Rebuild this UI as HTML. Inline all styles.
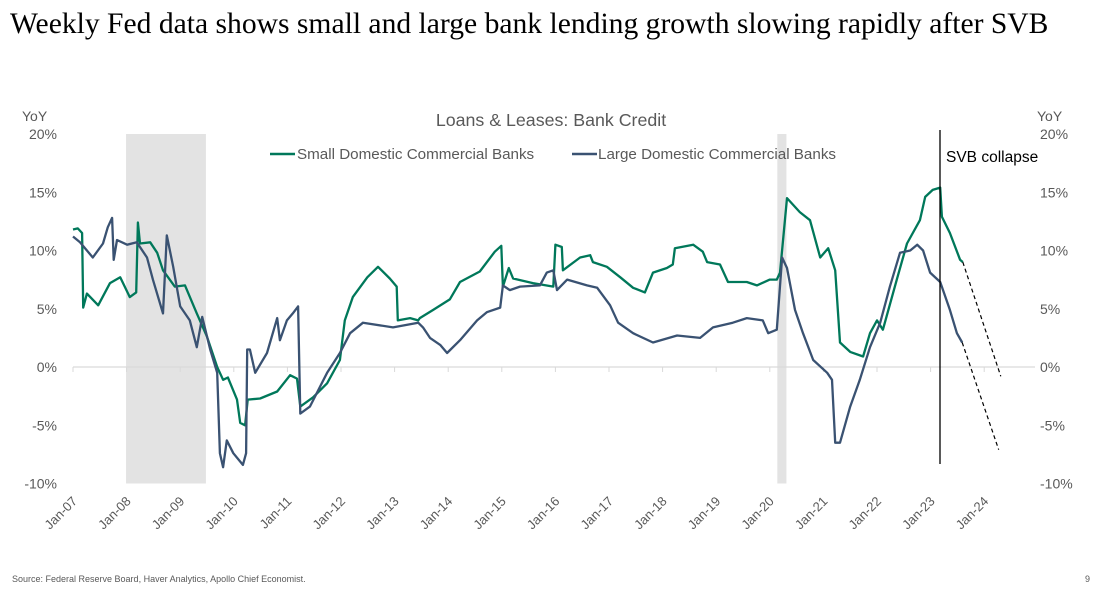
<!DOCTYPE html>
<html><head><meta charset="utf-8"><style>
body{margin:0;background:#fff;}
svg text{font-family:"Liberation Sans",sans-serif;}
</style></head><body>
<svg id="chart" width="1093" height="593" viewBox="0 0 1093 593" xmlns="http://www.w3.org/2000/svg">
<text x="10" y="33" font-size="29.6" fill="#000" style="font-family:'Liberation Serif',serif">Weekly Fed data shows small and large bank lending growth slowing rapidly after SVB</text>
<text x="551" y="126" font-size="17.8" fill="#595959" text-anchor="middle">Loans &amp; Leases: Bank Credit</text>
<text x="22" y="121" font-size="14" fill="#595959">YoY</text>
<text x="1037" y="121" font-size="14" fill="#595959">YoY</text>
<g id="bands"></g>
<g id="grid"></g>
<g id="series"></g>
<g>
<line x1="270" y1="154" x2="295" y2="154" stroke="#00785a" stroke-width="2.5"/>
<text x="297" y="159" font-size="15.2" fill="#595959">Small Domestic Commercial Banks</text>
<line x1="572" y1="154" x2="597" y2="154" stroke="#3a5272" stroke-width="2.5"/>
<text x="598" y="159" font-size="15.2" fill="#595959">Large Domestic Commercial Banks</text>
</g>
<line x1="940" y1="130" x2="940" y2="464" stroke="#000" stroke-width="1.3"/>
<text x="946" y="162" font-size="15.5" fill="#000">SVB collapse</text>
<text x="12" y="582" font-size="9" fill="#595959">Source: Federal Reserve Board, Haver Analytics, Apollo Chief Economist.</text>
<text x="1085" y="582" font-size="9" fill="#595959">9</text>
</svg>
<script>
const yTicks=[20,15,10,5,0,-5,-10];
const xTickLabels=["Jan-07","Jan-08","Jan-09","Jan-10","Jan-11","Jan-12","Jan-13","Jan-14","Jan-15","Jan-16","Jan-17","Jan-18","Jan-19","Jan-20","Jan-21","Jan-22","Jan-23","Jan-24"];
const xTickYears=[2007,2008,2009,2010,2011,2012,2013,2014,2015,2016,2017,2018,2019,2020,2021,2022,2023,2024];
const recessionStarts=[2007.99,2020.14];
const recessionEnds=[2009.48,2020.31];
const smallDates=[2007.00,2007.09,2007.17,2007.19,2007.26,2007.47,2007.69,2007.88,2008.06,2008.18,2008.21,2008.25,2008.44,2008.57,2008.68,2008.90,2009.09,2009.31,2009.50,2009.69,2009.80,2009.89,2010.06,2010.12,2010.21,2010.26,2010.49,2010.81,2011.05,2011.18,2011.24,2011.48,2011.74,2011.98,2012.07,2012.22,2012.49,2012.69,2012.91,2013.04,2013.06,2013.29,2013.44,2013.47,2013.72,2014.03,2014.22,2014.59,2014.87,2014.99,2015.02,2015.13,2015.21,2015.58,2015.96,2016.00,2016.12,2016.14,2016.46,2016.65,2016.70,2016.96,2017.21,2017.45,2017.67,2017.82,2018.08,2018.19,2018.23,2018.57,2018.75,2018.83,2019.07,2019.22,2019.57,2019.76,2020.00,2020.13,2020.19,2020.32,2020.56,2020.75,2020.94,2021.09,2021.22,2021.31,2021.50,2021.74,2021.87,2022.00,2022.11,2022.37,2022.56,2022.80,2022.90,2023.04,2023.18,2023.21,2023.36,2023.55,2023.60];
const smallVals=[11.8,11.9,11.5,5.1,6.3,5.3,7.2,7.7,6.0,6.4,12.4,10.6,10.7,9.8,8.3,6.9,7.0,4.6,2.6,0,-1.1,-0.9,-2.8,-4.8,-5.0,-2.8,-2.7,-2.1,-0.7,-1.0,-3.4,-2.6,-1.4,0.6,4.0,6.0,7.7,8.6,7.6,6.9,4.0,4.2,4.0,4.2,4.9,5.8,7.3,8.2,9.9,10.4,6.9,8.5,7.6,7.2,6.9,10.5,10.3,8.3,9.4,9.6,9.0,8.6,7.7,6.8,6.4,8.1,8.5,8.8,10.2,10.5,9.9,9.0,8.8,7.3,7.3,7.0,7.5,7.5,8.1,14.5,13.3,12.6,9.4,10.2,8.3,2.1,1.3,0.9,2.9,4.0,3.2,7.5,10.6,12.6,14.6,15.2,15.4,12.9,11.5,9.2,9.0];
const largeDates=[2007.00,2007.13,2007.37,2007.56,2007.65,2007.73,2007.76,2007.82,2008.01,2008.19,2008.38,2008.49,2008.68,2008.75,2008.87,2009.00,2009.18,2009.31,2009.41,2009.56,2009.69,2009.74,2009.80,2009.87,2009.99,2010.17,2010.23,2010.25,2010.30,2010.40,2010.62,2010.81,2010.86,2010.99,2011.10,2011.20,2011.24,2011.42,2011.74,2011.98,2012.17,2012.41,2012.97,2013.44,2013.53,2013.66,2013.85,2013.98,2014.22,2014.54,2014.72,2014.97,2015.02,2015.15,2015.34,2015.71,2015.84,2015.96,2016.03,2016.22,2016.59,2016.78,2017.02,2017.17,2017.45,2017.82,2018.27,2018.70,2018.94,2019.31,2019.57,2019.87,2019.97,2020.13,2020.23,2020.32,2020.47,2020.62,2020.81,2021.07,2021.16,2021.22,2021.31,2021.50,2021.68,2021.87,2022.06,2022.24,2022.43,2022.62,2022.75,2022.86,2022.99,2023.18,2023.36,2023.49,2023.59];
const largeVals=[11.2,10.7,9.4,10.6,12.0,12.8,9.2,10.9,10.5,10.7,9.4,7.5,4.6,11.3,8.6,5.2,4.0,1.7,4.3,1.5,-0.5,-7.4,-8.6,-6.3,-7.4,-8.4,-7.4,1.5,1.5,-0.5,1.2,4.2,2.3,4.0,4.6,5.2,-4.0,-3.4,-0.5,1.2,2.9,3.8,3.4,3.8,3.4,2.5,1.9,1.2,2.3,4.0,4.7,5.1,7.0,6.6,6.9,7.0,8.1,8.3,6.6,7.5,7.0,6.8,5.3,3.8,2.9,2.1,2.7,2.5,3.4,3.8,4.2,4.0,2.9,3.2,9.4,8.5,4.9,2.9,0.6,-0.5,-1.1,-6.5,-6.5,-3.4,-1.1,1.7,3.8,6.9,9.8,10.0,10.5,10.0,8.1,7.3,4.9,2.9,2.1];
const smallProjDates=[2023.60,2024.31];
const smallProjVals=[9.0,-0.8];
const largeProjDates=[2023.59,2024.27];
const largeProjVals=[2.1,-7.1];

const NS="http://www.w3.org/2000/svg";
const X0=73,PXY=53.6,Y0=367,PXP=11.65;
function xs(yr){return X0+(yr-2007)*PXY;}
function ys(v){return Y0-v*PXP;}
function mk(tag,attrs,parent){const e=document.createElementNS(NS,tag);for(const k in attrs)e.setAttribute(k,attrs[k]);parent.appendChild(e);return e;}
const bands=document.getElementById('bands'),grid=document.getElementById('grid'),series=document.getElementById('series'),svg=document.getElementById('chart');
recessionStarts.forEach((s,i)=>{
  const r=mk('rect',{x:xs(s),y:ys(20),width:xs(recessionEnds[i])-xs(s),height:ys(-10)-ys(20),fill:'#e3e3e3'},bands);
  
  
});
const ax=mk('line',{x1:X0,x2:1035,y1:ys(0),y2:ys(0),stroke:'#d9d9d9','stroke-width':1.2},grid);


yTicks.forEach(t=>{
  const l=mk('text',{x:57,y:ys(t)+5,'font-size':14,fill:'#595959','text-anchor':'end'},svg);
  l.textContent=t+'%';
  
  
  const r=mk('text',{x:1040,y:ys(t)+5,'font-size':14,fill:'#595959'},svg);
  r.textContent=t+'%';
  
  
});
xTickYears.forEach((yr,i)=>{
  const x=xs(yr);
  const tk=mk('line',{x1:x,x2:x,y1:ys(0),y2:ys(0)+5,stroke:'#d9d9d9','stroke-width':1},grid);
  
  
  const t=mk('text',{x:x+5,y:502,'font-size':13,fill:'#595959','text-anchor':'end',transform:`rotate(-45 ${x+5} 502)`},svg);
  t.textContent=xTickLabels[i];
  
  
});
function pts(d,v){return d.map((yr,i)=>xs(yr).toFixed(1)+','+ys(v[i]).toFixed(1)).join(' ');}
const ps=mk('polyline',{points:pts(smallDates,smallVals),fill:'none',stroke:'#00785a','stroke-width':2.3,'stroke-linejoin':'round'},series);


const pl=mk('polyline',{points:pts(largeDates,largeVals),fill:'none',stroke:'#3a5272','stroke-width':2.3,'stroke-linejoin':'round'},series);


const ds=mk('polyline',{points:pts(smallProjDates,smallProjVals),fill:'none',stroke:'#000','stroke-width':1.2,'stroke-dasharray':'4,3'},series);


const dl=mk('polyline',{points:pts(largeProjDates,largeProjVals),fill:'none',stroke:'#000','stroke-width':1.2,'stroke-dasharray':'4,3'},series);


</script>
</body></html>
